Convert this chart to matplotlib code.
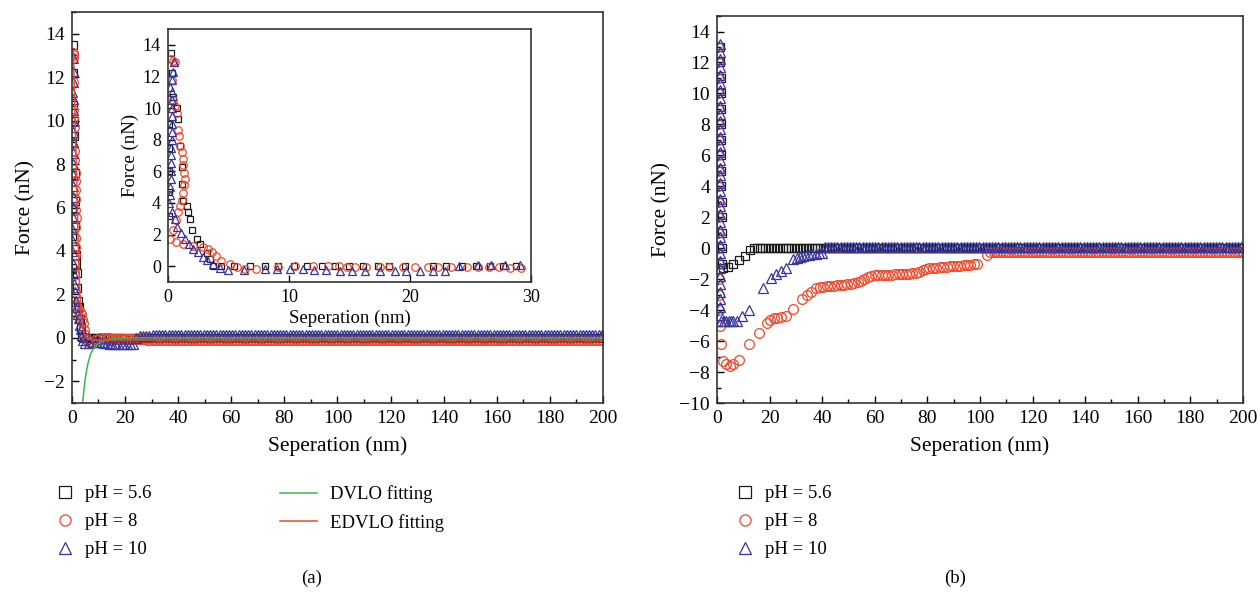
import numpy as np
import matplotlib
matplotlib.use("Agg")
import matplotlib.pyplot as plt
from matplotlib.lines import Line2D

plt.rcParams['font.family'] = ['Liberation Serif', 'DejaVu Serif']

# Farben der Messreihen
c_56 = '#1a1a1a'
c_8 = '#f0482a'
c_10 = '#35359c'
c_dvlo = '#3cb54a'
c_edvlo = '#f0482a'

# ---------------- Daten (a): Annaeherungskurven 0..30 nm ----------------
a56_x = [0.05, 0.05, 0.08, 0.1, 0.12, 0.22, 0.3, 0.44, 0.72, 0.85, 1.0, 1.13, 1.13,
         1.27, 1.54, 1.68, 1.8, 2.0, 2.4, 2.65, 3.2, 3.5, 3.75, 4.4, 5.5, 6.8, 8.0,
         9.1, 10.4, 11.5, 12.7, 13.8, 15.0, 16.1, 17.4, 18.3, 19.6, 21.9, 23.0, 24.3,
         25.5, 26.6, 27.7, 28.8]
a56_y = [9.0, 7.5, 6.0, 4.7, 3.2, 13.5, 12.2, 10.7, 10.0, 9.3, 7.6, 6.3, 5.2,
         4.1, 3.8, 3.4, 3.0, 2.3, 1.7, 1.4, 0.86, 0.45, 0.02, 0.0, 0.0, 0.0, 0.0,
         0.0, 0.0, 0.0, 0.0, 0.0, 0.0, 0.0, 0.0, 0.0, 0.0, 0.0, 0.0, 0.0,
         0.0, 0.0, 0.0, 0.0]

a8_x = [0.22, 0.39, 0.58, 0.3, 0.44, 0.58, 0.72, 0.85, 0.94, 1.0, 1.13, 1.21, 1.27,
        1.32, 1.38, 1.32, 1.27, 1.13, 1.0, 0.85, 0.66, 0.39, 0.17, 0.66, 1.27, 2.1,
        2.9, 3.3, 3.6, 4.0, 4.4, 5.1, 5.7, 6.4, 7.3, 9.1, 10.5, 12.0, 13.25, 14.1,
        14.8, 15.5, 16.4, 17.5, 18.3, 19.4, 20.4, 21.5, 22.3, 23.4, 24.7, 25.6,
        26.5, 27.4, 28.3, 29.2]
a8_y = [13.1, 13.0, 12.9, 11.8, 10.5, 10.1, 9.7, 8.6, 8.2, 7.6, 7.2, 6.8, 6.4,
        5.9, 5.5, 5.1, 4.6, 4.2, 3.8, 3.4, 2.9, 2.3, 1.7, 1.5, 1.4, 1.3,
        1.2, 1.1, 0.88, 0.67, 0.35, 0.14, -0.08, -0.19, -0.19, -0.08, 0.0, 0.0, 0.0, 0.0,
        -0.08, -0.05, -0.05, -0.05, -0.05, -0.05, -0.05, -0.05, -0.05, -0.05, -0.05, -0.05,
        -0.05, -0.05, -0.1, -0.1]

a10_x = [0.5, 0.39, 0.3, 0.17, 0.35, 0.35, 0.35, 0.3, 0.3, 0.3, 0.3, 0.28, 0.28,
         0.25, 0.25, 0.22, 0.2, 0.15, 0.1, 0.3, 0.58, 0.77, 1.05, 1.4, 1.76, 2.1,
         2.5, 2.9, 3.25, 3.75, 4.3, 5.0, 6.3, 8.0, 9.0, 10.1, 11.2, 12.1, 13.1,
         14.2, 15.2, 16.3, 17.5, 18.8, 19.7, 20.8, 21.9, 22.9, 24.1, 25.6, 26.7,
         27.9, 29.1]
a10_y = [12.9, 12.3, 11.8, 11.3, 11.0, 10.5, 10.0, 9.5, 9.0, 8.5, 8.0, 7.5, 7.0,
         6.5, 6.0, 5.5, 5.0, 4.5, 4.0, 3.4, 3.0, 2.5, 2.1, 1.7, 1.4, 1.1,
         0.9, 0.6, 0.4, 0.15, -0.1, -0.25, -0.25, -0.2, -0.2, -0.2, -0.2, -0.25, -0.25,
         -0.3, -0.3, -0.3, -0.3, -0.3, -0.3, -0.3, -0.3, -0.3, 0.0, 0.1, 0.1,
         0.1, 0.1]

# flache Auslaeufe 30..200 nm (Pegel)
tail_step = 1.2
a56_level = 0.0
a8_level = -0.12
a10_level = 0.12

# Fitkurven (a)
dvlo_x = [4.0, 4.5, 5.0, 5.5, 6.0, 7.0, 8.0, 9.5, 11.0, 14.0, 20.0, 200.0]
dvlo_y = [-3.0, -2.4, -1.9, -1.5, -1.2, -0.75, -0.5, -0.3, -0.18, -0.06, 0.0, 0.0]
edvlo_x = [0.5, 1.0, 1.5, 2.0, 2.5, 3.0, 3.5, 4.2, 5.0, 6.0, 8.0, 200.0]
edvlo_y = [13.2, 11.0, 8.5, 6.0, 3.8, 2.0, 1.0, 0.4, 0.1, -0.05, -0.1, -0.1]

# ---------------- Daten (b): Rueckzugskurven ----------------
b56_x = [1.2, 1.3, 1.4, 1.5, 1.5, 1.6, 1.6, 1.7, 1.7, 1.7, 1.8, 1.8, 1.8, 1.9, 1.9,
         2.4, 4.3, 6.2, 8.5, 10.7, 12.6, 14.0, 15.1, 16.2, 17.3, 18.4, 19.5, 20.6,
         21.7, 22.8, 23.9, 25.0, 26.1, 27.2, 28.3, 29.4, 30.5, 31.6, 32.7, 33.8,
         34.9, 36.0, 37.1, 38.2, 39.3, 40.4, 41.5]
b56_y = [13.0, 12.0, 11.0, 10.0, 9.0, 8.0, 7.0, 6.0, 5.0, 4.0, 3.0, 2.0, 1.0, 0.0, -1.0,
         -1.25, -1.2, -1.05, -0.75, -0.5, -0.1, 0.0, 0.0, 0.0, 0.0, 0.0, 0.0, 0.0,
         0.0, 0.0, 0.0, 0.0, 0.0, 0.0, 0.0, 0.0, 0.0, 0.0, 0.0, 0.0,
         0.0, 0.0, 0.0, 0.0, 0.0, 0.0, 0.0]

b8_x = [0.3, 0.3, 0.35, 0.35, 0.4, 0.4, 0.45, 0.45, 0.5, 0.5, 0.5, 0.55, 0.55, 0.6,
        0.6, 0.6, 0.7, 0.9, 1.3, 1.7, 2.4, 3.6, 4.9, 6.2, 8.5, 12.3, 16.1, 18.9,
        20.2, 21.7, 23.0, 24.3, 26.2, 29.0, 32.2, 34.1, 35.6, 37.7, 39.2,
        40.5, 41.8, 43.1, 44.4, 45.7, 47.0, 48.3, 49.6, 50.9, 52.2, 53.5, 54.8,
        56.1, 57.4, 58.7, 60.0, 61.3, 62.6, 63.9, 65.2, 66.5, 67.8, 69.1, 70.4,
        71.7, 73.0, 74.3, 75.6, 76.9, 78.2, 79.5, 80.8, 82.1, 83.4, 84.7, 86.0,
        87.3, 88.6, 89.9, 91.2, 92.5, 93.8, 95.1, 96.4, 97.7, 99.0, 102.7]
b8_y = [13.0, 12.0, 11.0, 10.0, 9.0, 8.0, 7.0, 6.0, 5.0, 4.0, 3.0, 2.0, 1.0, 0.0,
        -1.0, -2.0, -3.0, -4.0, -5.0, -6.2, -7.3, -7.5, -7.6, -7.5, -7.2, -6.2, -5.5, -4.8,
        -4.65, -4.5, -4.5, -4.45, -4.4, -3.9, -3.3, -3.0, -2.8, -2.6, -2.5,
        -2.48, -2.46, -2.44, -2.42, -2.4, -2.38, -2.35, -2.32, -2.3, -2.25, -2.2, -2.1,
        -2.0, -1.85, -1.78, -1.75, -1.74, -1.73, -1.72, -1.71, -1.7, -1.68, -1.67, -1.66,
        -1.65, -1.64, -1.62, -1.6, -1.55, -1.42, -1.35, -1.3, -1.28, -1.26, -1.24, -1.22,
        -1.2, -1.18, -1.16, -1.14, -1.12, -1.1, -1.08, -1.06, -1.04, -1.02, -0.42]

b10_x = [1.0, 1.0, 1.0, 1.0, 1.0, 1.0, 1.0, 1.0, 1.0, 1.0, 1.0, 1.0, 1.0, 1.0, 1.0,
         1.0, 1.0, 1.0, 1.0, 1.0, 1.0, 1.0, 1.0, 1.0, 1.0, 1.0, 1.0, 1.0, 1.0, 1.0,
         1.0, 1.0, 1.0, 1.0, 1.0, 1.0,
         1.7, 2.6, 3.5, 4.4, 5.3, 6.2, 7.5, 9.6, 12.3, 17.6, 20.7, 22.4, 24.3, 26.4,
         29.0, 30.3, 31.5, 32.7, 33.9, 35.1, 36.3, 37.5, 38.7, 39.9]
b10_y = [13.2, 12.7, 12.2, 11.7, 11.2, 10.7, 10.2, 9.7, 9.2, 8.7, 8.2, 7.7, 7.2, 6.7, 6.2,
         5.7, 5.2, 4.7, 4.2, 3.7, 3.2, 2.7, 2.2, 1.7, 1.2, 0.7, 0.2, -0.3, -0.8, -1.3,
         -1.8, -2.3, -2.8, -3.3, -3.8, -4.3,
         -4.7, -4.7, -4.7, -4.7, -4.7, -4.7, -4.68, -4.4, -4.0, -2.55, -1.9, -1.65, -1.5, -1.25,
         -0.7, -0.6, -0.55, -0.5, -0.45, -0.42, -0.4, -0.35, -0.32, -0.3]

b56_level = 0.0
b8_level = -0.27
b10_level = 0.05


def tail(x0, level):
    # flacher Auslauf bis 200 nm, Abtastung wie im Bild
    x = np.arange(x0, 200.01, tail_step)
    return x, np.full(x.size, level)


def style(ax, ylim, xmajor, ymajor, minor=True, fs=14):
    ax.tick_params(direction='in', which='both', top=False, right=False,
                   labelsize=fs, pad=5)
    ax.tick_params(which='major', length=5, width=1)
    ax.tick_params(which='minor', length=3, width=1)
    ax.xaxis.set_major_locator(plt.MultipleLocator(xmajor))
    ax.yaxis.set_major_locator(plt.MultipleLocator(ymajor))
    if minor:
        ax.xaxis.set_minor_locator(plt.MultipleLocator(xmajor / 2))
        ax.yaxis.set_minor_locator(plt.MultipleLocator(ymajor / 2))
    for s in ax.spines.values():
        s.set_color('#333333')
        s.set_linewidth(1.2)
    ax.set_ylim(*ylim)


fig = plt.figure(figsize=(12.6, 5.94), dpi=100)

mk = dict(linestyle='none', markerfacecolor='none', markeredgewidth=0.9)

# ---------------- Panel (a) ----------------
ax1 = fig.add_axes([0.0571, 0.3215, 0.4214, 0.6582])
series_a = [(a56_x, a56_y, a56_level, 's', c_56, 6),
            (a8_x, a8_y, a8_level, 'o', c_8, 7),
            (a10_x, a10_y, a10_level, '^', c_10, 7.5)]
for xs, ys, lev, m, c, ms in series_a:
    tx, ty = tail(30.4, lev)
    ax1.plot(np.concatenate([xs, tx]), np.concatenate([ys, ty]),
             marker=m, color=c, markeredgecolor=c, ms=ms, **mk)
ax1.plot(dvlo_x, dvlo_y, color=c_dvlo, lw=1.1)
ax1.plot(edvlo_x, edvlo_y, color=c_edvlo, lw=1.1)
style(ax1, (-3, 15), 20, 2)
ax1.set_xlim(0, 200)
ax1.set_xlabel('Seperation (nm)', fontsize=15.5, labelpad=7)
ax1.set_ylabel('Force (nN)', fontsize=15.5, labelpad=6)

# Inset
ax_in = fig.add_axes([0.1333, 0.5253, 0.288, 0.426])
for xs, ys, lev, m, c, ms in series_a:
    ax_in.plot(xs, ys, marker=m, color=c, markeredgecolor=c, ms=ms - 1.6, **mk)
style(ax_in, (-1, 15), 10, 2, minor=False, fs=13)
ax_in.set_xlim(0, 30)
ax_in.set_xlabel('Seperation (nm)', fontsize=13.5, labelpad=3)
ax_in.set_ylabel('Force (nN)', fontsize=13.5, labelpad=3)

# ---------------- Panel (b) ----------------
ax2 = fig.add_axes([0.569, 0.3215, 0.4175, 0.6515])
series_b = [(b56_x, b56_y, b56_level, 's', c_56, 5.5, 42.6),
            (b8_x, b8_y, b8_level, 'o', c_8, 7, 104.0),
            (b10_x, b10_y, b10_level, '^', c_10, 7.5, 41.0)]
for xs, ys, lev, m, c, ms, x0 in series_b:
    tx, ty = tail(x0, lev)
    ax2.plot(np.concatenate([xs, tx]), np.concatenate([ys, ty]),
             marker=m, color=c, markeredgecolor=c, ms=ms, **mk)
style(ax2, (-10, 15), 20, 2)
ax2.set_xlim(0, 200)
ax2.set_xlabel('Seperation (nm)', fontsize=15.5, labelpad=7)
ax2.set_ylabel('Force (nN)', fontsize=15.5, labelpad=6)

# ---------------- Legenden ----------------
labels = ['pH = 5.6', 'pH = 8', 'pH = 10']
markers = [('s', c_56), ('o', c_8), ('^', c_10)]


def marker_handles():
    return [Line2D([], [], marker=m, color=c, markeredgecolor=c, ms=8, **mk)
            for m, c in markers]


leg_kw = dict(frameon=False, fontsize=13.5, loc='upper left',
              labelspacing=0.58, borderpad=0, borderaxespad=0)
fig.legend(marker_handles(), labels, bbox_to_anchor=(0.0441, 0.183),
           handlelength=1.0, handletextpad=0.55, **leg_kw)
fig.legend([Line2D([], [], color=c_dvlo, lw=1.1), Line2D([], [], color=c_edvlo, lw=1.1)],
           ['DVLO fitting', 'EDVLO fitting'], bbox_to_anchor=(0.222, 0.183),
           handlelength=2.0, handletextpad=0.7, **leg_kw)
fig.legend(marker_handles(), labels, bbox_to_anchor=(0.5838, 0.183),
           handlelength=1.0, handletextpad=0.55, **leg_kw)

fig.text(0.2476, 0.018, '(a)', fontsize=13.5, ha='center')
fig.text(0.758, 0.018, '(b)', fontsize=13.5, ha='center')

fig.savefig('out.png', dpi=100)
